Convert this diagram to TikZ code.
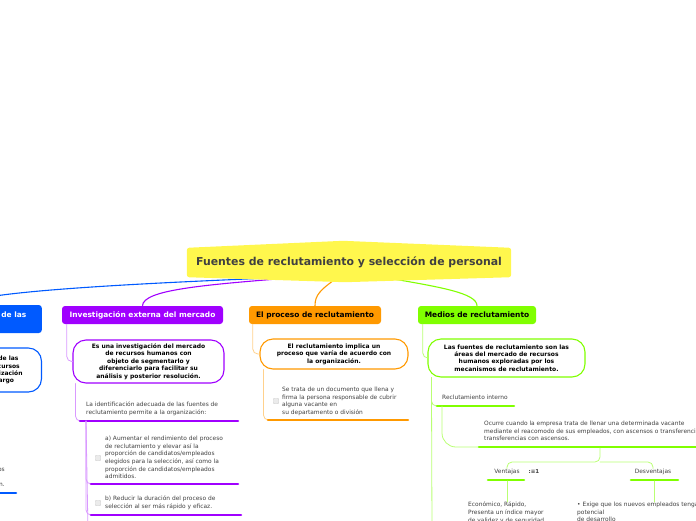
\documentclass[tikz,border=0pt]{standalone}
\usepackage{fontspec}
\setmainfont{DejaVu Sans}
\usetikzlibrary{backgrounds}
\definecolor{mmyellow}{RGB}{255,247,77}
\definecolor{mmblue}{RGB}{0,90,255}
\definecolor{mmpurple}{RGB}{160,0,255}
\definecolor{mmorange}{RGB}{255,153,0}
\definecolor{mmgreen}{RGB}{128,255,0}
\definecolor{mmtext}{RGB}{64,64,64}

\begin{document}
\begin{tikzpicture}[x=1pt,y=-1pt,line cap=round,line join=round,
  topic/.style={rounded corners=3pt,inner sep=0pt,minimum height=18pt,font=\fontsize{7.45}{9}\selectfont\bfseries,align=center},
  bubble/.style={draw,fill=white,rounded corners=13pt,line width=1.1pt,inner sep=0pt,font=\fontsize{6}{7.4}\selectfont\bfseries,align=center},
  note/.style={inner sep=0pt,anchor=north west,align=left,text=mmtext,font=\fontsize{5.9}{7.6}\selectfont},
  twig/.style={line width=0.8pt,rounded corners=5pt},
  bar/.style={line width=2.6pt},
  tickbox/.style={draw=black!18,fill=black!8,rounded corners=1pt,minimum size=5.5pt,inner sep=0pt,line width=0.4pt}]
\useasboundingbox (0,0) rectangle (696,520);

% central topic
\node[inner sep=0pt,minimum width=324pt,minimum height=29pt,font=\fontsize{10.9}{13}\selectfont\bfseries,text=mmtext] (title) at (349,262.5) {Fuentes de reclutamiento y selección de personal};

% main topics
\node[topic,fill=mmblue,text=white,minimum width=160pt,minimum height=28pt,anchor=east] (bTopic) at (42,319) {La investigación interna de las\\fuentes};
\node[topic,fill=mmpurple,text=white,minimum width=161pt] (pTopic) at (142.5,315) {Investigación externa del mercado};
\node[topic,fill=mmorange,minimum width=132pt] (oTopic) at (315,315) {El proceso de reclutamiento};
\node[topic,fill=mmgreen,minimum width=118pt] (gTopic) at (477,315) {Medios de reclutamiento};

% blue branch (mostly off the page)
\node[bubble,draw=mmblue,minimum width=150pt,minimum height=44pt,anchor=east] (bBubble) at (42,370) {Consiste en la ubicación de las\\principales fuentes de recursos\\humanos de toda la organización\\en el corto, mediano y largo};
\draw[twig,mmblue!50] ([xshift=5pt]bTopic.south west) |- (bBubble.west);
\node[note,anchor=north east,align=right] (bNote) at (5,467) {de los candidatos\\[7pt]de la organización.};
\coordinate (bb1a) at (-60,493);
\coordinate (bb1b) at (16,493);
\draw[bar,mmblue] (bb1a) -- (bb1b);

% purple branch
\node[bubble,draw=mmpurple,minimum width=151pt,minimum height=43pt] (pBubble) at (148.5,361.5) {Es una investigación del mercado\\de recursos humanos con\\objeto de segmentarlo y\\diferenciarlo para facilitar su\\análisis y posterior resolución.};
\draw[twig,mmpurple!40] ([xshift=5pt]pTopic.south west) |- (pBubble.west);
\node[note] (pNote1) at (86,402) {La identificación adecuada de las fuentes de\\reclutamiento permite a la organización:};
\coordinate (pb1a) at (80,421);
\coordinate (pb1b) at (238,421);
\draw[twig,mmpurple!40] ([xshift=3pt]pBubble.south west) |- (pb1a);
\draw[bar,mmpurple] (pb1a) -- (pb1b);
\node[tickbox] (pTickA) at (98,458) {};
\node[note] (pNoteA) at (105,436) {a) Aumentar el rendimiento del proceso\\de reclutamiento y elevar así la\\proporción de candidatos/empleados\\elegidos para la selección, así como la\\proporción de candidatos/empleados\\admitidos.};
\coordinate (pb2a) at (91,484);
\coordinate (pb2b) at (238,484);
\node[tickbox] (pTickB) at (98,503) {};
\node[note] (pNoteB) at (105,496) {b) Reducir la duración del proceso de\\selección al ser más rápido y eficaz.};
\coordinate (pb3a) at (91,515);
\coordinate (pb3b) at (241,515);
\coordinate (pEnd) at (88,530);
\draw[twig,mmpurple!40] ([xshift=6pt]pb1a) |- (pb2a);
\draw[twig,mmpurple!40] ([xshift=6pt]pb1a) |- (pb3a);
\draw[twig,mmpurple!40] ([xshift=6pt]pb1a) -- (pEnd);
\draw[bar,mmpurple] (pb2a) -- (pb2b);
\draw[bar,mmpurple] (pb3a) -- (pb3b);

% orange branch
\node[bubble,draw=mmorange,minimum width=148pt,minimum height=30pt] (oBubble) at (334,354) {El reclutamiento implica un\\proceso que varía de acuerdo con\\la organización.};
\draw[twig,mmorange!45] ([xshift=4pt]oTopic.south west) |- (oBubble.west);
\node[tickbox] (oTick) at (276,401) {};
\node[note] (oNote) at (282,387) {Se trata de un documento que llena y\\firma la persona responsable de cubrir\\alguna vacante en\\su departamento o división};
\coordinate (ob1a) at (268,420);
\coordinate (ob1b) at (408,420);
\draw[twig,mmorange!45] ([xshift=4pt]oBubble.south west) |- (ob1a);
\draw[bar,mmorange] (ob1a) -- (ob1b);

% green branch
\node[bubble,draw=mmgreen,minimum width=157pt,minimum height=38pt] (gBubble) at (506.5,358) {Las fuentes de reclutamiento son las\\áreas del mercado de recursos\\humanos exploradas por los\\mecanismos de reclutamiento.};
\draw[twig,mmgreen!55] ([xshift=5pt]gTopic.south west) |- (gBubble.west);
\coordinate (gEnd) at (432,530);
\coordinate (gb1a) at (437,406);
\coordinate (gb1b) at (514,406);
\draw[twig,mmgreen!55] ([xshift=4pt]gBubble.south west) -- (gEnd);
\draw[twig,mmgreen!55] ([xshift=4pt]gBubble.south west) |- (gb1a);
\node[note] (gNote1) at (442,395) {Reclutamiento interno};
\draw[bar,mmgreen] (gb1a) -- (gb1b);
\node[note] (gNote2) at (484,421) {Ocurre cuando la empresa trata de llenar una determinada vacante\\mediante el reacomodo de sus empleados, con ascensos o transferencias o\\transferencias con ascensos.};
\coordinate (gb2a) at (479,447);
\coordinate (gb2b) at (700,447);
\draw[twig,mmgreen!55,rounded corners=14pt] ([xshift=5pt]gb1a) |- (gb2a);
\draw[bar,mmgreen] (gb2a) -- (gb2b);
\coordinate (gSplit) at (600,448);
\coordinate (gJoin) at (600,462);
\node[note,anchor=north] (vent) at (507,468.5) {Ventajas};
\node[note,anchor=north] (desv) at (653,468.5) {Desventajas};
\node[inner sep=0pt,font=\fontsize{5.5}{6}\selectfont\bfseries,text=black!75] (ventIcon) at (534,471) {:≡1};
\draw[twig,mmgreen!55] (gSplit) -- (gJoin) -| (vent.north);
\draw[twig,mmgreen!55] (gJoin) -| (desv.north);
\coordinate (vb1a) at (488,480);
\coordinate (vb1b) at (524,480);
\coordinate (db1a) at (631,480);
\coordinate (db1b) at (678,480);
\draw[bar,mmgreen] (vb1a) -- (vb1b);
\draw[bar,mmgreen] (db1a) -- (db1b);
\node[note] (ventTxt) at (468,502) {Económico, Rápido,\\Presenta un índice mayor\\de validez y de seguridad};
\node[note] (desvTxt) at (577,502) {• Exige que los nuevos empleados tengan\\potencial\\de desarrollo};
\coordinate (vTick) at (507,481);
\coordinate (dTick) at (654,481);
\draw[twig,mmgreen!55] (vTick) -- (vTick |- ventTxt.north);
\draw[twig,mmgreen!55] (dTick) -- (dTick |- desvTxt.north);

% links from the central topic, behind its yellow shape
\begin{scope}[on background layer]
\draw[mmblue,line width=1.1pt] ([xshift=-59pt]title.south) .. controls (120,284) and (-25,292) .. (bTopic.north);
\draw[mmpurple,line width=1.1pt] ([xshift=-49pt]title.south) .. controls (200,285) and (143,290) .. (pTopic.north);
\draw[mmorange,line width=1.1pt] ([xshift=-11pt]title.south) .. controls (320,290) and (315,295) .. (oTopic.north);
\draw[mmgreen,line width=1.1pt] ([xshift=34pt]title.south) .. controls (440,287) and (477,293) .. (gTopic.north);
\fill[mmyellow,rounded corners=2.5pt] (title.north west) -- ([xshift=-6pt,yshift=7pt]title.north) -- (title.north east) -- (title.south east) -- ([xshift=-4pt,yshift=-5pt]title.south) -- (title.south west) -- cycle;
\end{scope}
\end{tikzpicture}
\end{document}
